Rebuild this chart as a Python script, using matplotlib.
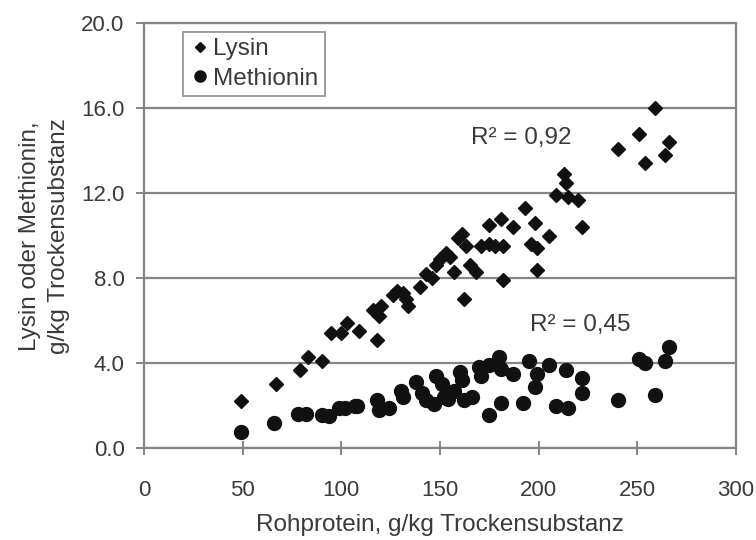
import matplotlib
matplotlib.use("Agg")
import matplotlib.pyplot as plt
from matplotlib.ticker import FormatStrFormatter

plt.rcParams['font.family'] = ['Liberation Sans', 'DejaVu Sans']

# Lysin (Rohprotein g/kg TS, Lysin g/kg TS)
lys_x = [49, 67, 79, 83, 90, 95, 100, 103, 109, 118, 116, 120, 119, 126, 128, 131,
         134, 133, 140, 143, 146, 148, 150, 153, 155, 157, 159, 161, 163, 162, 165,
         168, 171, 175, 175, 178, 181, 182, 182, 187, 193, 196, 198, 199, 199, 205,
         209, 213, 214, 215, 220, 222, 240, 251, 254, 259, 264, 266]
lys_y = [2.2, 3.0, 3.7, 4.3, 4.1, 5.4, 5.4, 5.9, 5.5, 5.1, 6.5, 6.7, 6.2, 7.2, 7.4, 7.3,
         6.7, 7.0, 7.6, 8.2, 8.0, 8.6, 8.9, 9.2, 9.0, 8.3, 9.9, 10.1, 9.5, 7.0, 8.6,
         8.3, 9.5, 9.6, 10.5, 9.5, 10.8, 9.5, 7.9, 10.4, 11.3, 9.6, 10.6, 9.4, 8.4, 10.0,
         11.9, 12.9, 12.5, 11.8, 11.7, 10.4, 14.1, 14.8, 13.4, 16.0, 13.8, 14.4]

# Methionin
met_x = [49, 66, 78, 82, 90, 94, 99, 102, 107, 108, 118, 119, 124, 130, 131, 138,
         141, 143, 147, 148, 151, 152, 154, 157, 160, 161, 162, 166, 170, 171, 175,
         180, 181, 187, 181, 175, 192, 195, 199, 198, 205, 214, 222, 222, 209, 215,
         240, 251, 254, 264, 266, 259]
met_y = [0.75, 1.2, 1.6, 1.6, 1.55, 1.5, 1.9, 1.9, 2.0, 2.0, 2.25, 1.8, 1.9, 2.7, 2.4, 3.1,
         2.6, 2.25, 2.1, 3.4, 3.0, 2.4, 2.3, 2.7, 3.6, 3.2, 2.25, 2.4, 3.8, 3.4, 3.9,
         4.3, 3.75, 3.5, 2.15, 1.55, 2.15, 4.1, 3.5, 2.9, 3.9, 3.7, 3.3, 2.6, 2.0, 1.9,
         2.25, 4.2, 4.0, 4.1, 4.75, 2.5]

x_ticks = [0, 50, 100, 150, 200, 250, 300]
y_ticks = [0, 4, 8, 12, 16, 20]

txt = '#3a3a3a'
grey = '#858585'

fig = plt.figure(figsize=(7.56, 5.40), dpi=100)
ax = fig.add_axes([0.1905, 0.170, 0.783, 0.787])

ax.plot(lys_x, lys_y, 'D', color='#111111', markersize=7.0, label='Lysin', zorder=3)
ax.plot(met_x, met_y, 'o', color='#111111', markersize=10, label='Methionin', zorder=3)

ax.set_xlim(0, 300)
ax.set_ylim(0, 20)
ax.set_xticks(x_ticks)
ax.set_yticks(y_ticks)
ax.yaxis.set_major_formatter(FormatStrFormatter('%.1f'))
ax.yaxis.grid(True, color=grey, linewidth=1.6)
ax.set_axisbelow(True)

for s in ax.spines.values():
    s.set_color(grey)
    s.set_linewidth(1.6)

ax.tick_params(axis='x', direction='inout', length=10, width=1.4, color=grey,
               labelsize=16, labelcolor=txt, pad=18)
ax.tick_params(axis='y', direction='out', length=6, width=1.4, color=grey,
               labelsize=16, labelcolor=txt, pad=8)

ax.set_xlabel('Rohprotein, g/kg Trockensubstanz', fontsize=17.5, color=txt, labelpad=9)
ax.set_ylabel('Lysin oder Methionin,\ng/kg Trockensubstanz', fontsize=17.5, color=txt,
              linespacing=1.4, labelpad=8)

ax.text(191, 14.6, 'R² = 0,92', fontsize=17.5, color=txt, ha='center', va='center')
ax.text(221, 5.8, 'R² = 0,45', fontsize=17.5, color=txt, ha='center', va='center')

leg = ax.legend(loc='upper left', bbox_to_anchor=(0.066, 0.979), fontsize=17.5,
                frameon=True, fancybox=False, edgecolor=grey, handletextpad=0.1,
                handlelength=0.9, borderpad=0.25, labelspacing=0.3,
                borderaxespad=0.0, markerscale=0.8)
leg.get_frame().set_linewidth(1.4)
for t in leg.get_texts():
    t.set_color(txt)

fig.savefig('out.png', dpi=100)
